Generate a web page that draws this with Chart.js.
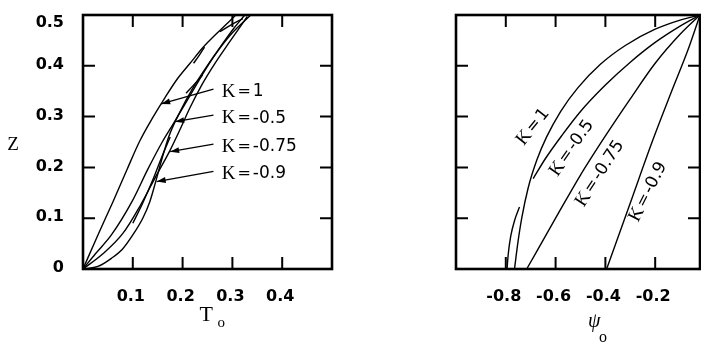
<!DOCTYPE html>
<html><head><meta charset="utf-8">
<script src="https://cdn.jsdelivr.net/npm/chart.js@4"></script>
<style>
html,body{margin:0;padding:0;background:#fff;overflow:hidden;width:701px;height:345px}
#c1{position:absolute;left:0;top:0}
#c2{position:absolute;left:350px;top:0}
</style></head><body>
<canvas id="c1" width="350" height="345"></canvas>
<canvas id="c2" width="351" height="345"></canvas>
<script>
// ---------- Left panel: T0 vs Z ----------
const kNames = ['1', '-0.5', '-0.75', '-0.9'];
const T_k1   = [0, 0.03, 0.06, 0.088, 0.114, 0.14, 0.165, 0.19, 0.215, 0.24, 0.27, 0.307];
const Z_k1   = [0, 0.067, 0.132, 0.195, 0.252, 0.298, 0.338, 0.375, 0.405, 0.435, 0.465, 0.5];
const T_k05  = [0, 0.025, 0.057, 0.098, 0.13, 0.158, 0.184, 0.208, 0.232, 0.256, 0.28, 0.303, 0.325];
const Z_k05  = [0, 0.03, 0.067, 0.132, 0.196, 0.248, 0.29, 0.33, 0.37, 0.408, 0.443, 0.474, 0.5];
const T_k075 = [0, 0.04, 0.08, 0.115, 0.145, 0.174, 0.195, 0.215, 0.24, 0.265, 0.295, 0.33];
const Z_k075 = [0, 0.03, 0.07, 0.125, 0.18, 0.232, 0.275, 0.318, 0.365, 0.405, 0.448, 0.497];
const T_k09  = [0, 0.03, 0.057, 0.08, 0.1, 0.12, 0.134, 0.146, 0.158, 0.172, 0.195, 0.22, 0.248, 0.275, 0.3, 0.337];
const Z_k09  = [0, 0.005, 0.021, 0.04, 0.067, 0.1, 0.132, 0.172, 0.215, 0.26, 0.31, 0.355, 0.398, 0.435, 0.465, 0.5];
// short stray curve fragments
const fragT = [[0.1, 0.12, 0.14, 0.158, 0.175], [0.207, 0.222, 0.24], [0.222, 0.233, 0.244], [0.275, 0.3, 0.321]];
const fragZ = [[0.09, 0.13, 0.175, 0.22, 0.26], [0.346, 0.362, 0.382], [0.405, 0.42, 0.437], [0.467, 0.482, 0.493]];
// tick values and labels
const tTickVals = [0.1, 0.2, 0.3, 0.4];
const tTickLabels = ['0.1', '0.2', '0.3', '0.4'];
const zTickVals = [0, 0.1, 0.2, 0.3, 0.4, 0.5];
const zTickLabels = ['0', '0.1', '0.2', '0.3', '0.4', '0.5'];
const zInnerTicks = [0.1, 0.2, 0.3, 0.4];
// annotations (data coordinates)
const arrowTailT = [0.262, 0.262, 0.262, 0.262];
const arrowTailZ = [0.354, 0.303, 0.246, 0.192];
const arrowHeadT = [0.157, 0.185, 0.175, 0.148];
const arrowHeadZ = [0.325, 0.29, 0.231, 0.172];
const labelT = [0.2785, 0.2785, 0.2785, 0.2785];
const labelZ = [0.349, 0.297, 0.241, 0.187];

// ---------- Right panel: psi0 vs Z ----------
const P_k1   = [-0.765, -0.752, -0.736, -0.71, -0.675, -0.636, -0.58, -0.51, -0.42, -0.32, -0.2, -0.1, -0.02];
const PZ_k1  = [0, 0.05, 0.1, 0.16, 0.215, 0.26, 0.31, 0.357, 0.403, 0.44, 0.472, 0.49, 0.5];
const P_k05  = [-0.69, -0.64, -0.576, -0.5, -0.4, -0.3, -0.2, -0.1, -0.02];
const PZ_k05 = [0.178, 0.218, 0.262, 0.31, 0.362, 0.407, 0.446, 0.478, 0.5];
const P_k075 = [-0.716, -0.6, -0.5, -0.4, -0.3, -0.2, -0.1, -0.02];
const PZ_k075= [0, 0.1, 0.185, 0.262, 0.335, 0.405, 0.462, 0.5];
const P_k09  = [-0.395, -0.3, -0.211, -0.134, -0.067, -0.02];
const PZ_k09 = [0, 0.13, 0.252, 0.35, 0.433, 0.5];
const fragP  = [[-0.795, -0.79, -0.78, -0.765, -0.745]];
const fragPZ = [[0.0, 0.03, 0.065, 0.095, 0.122]];
const pTickVals = [-0.8, -0.6, -0.4, -0.2];
const pTickLabels = ['-0.8', '-0.6', '-0.4', '-0.2'];
const rLabelP = [-0.690, -0.535, -0.422, -0.228];
const rLabelZ = [0.280, 0.238, 0.188, 0.152];
const rLabelAngle = [51, 55, 57, 63];

// ---------- helpers ----------
const SERIF = '"Liberation Serif", "DejaVu Serif", serif';
const SANS = '"DejaVu Sans", "Liberation Sans", sans-serif';
function pts(xs, ys) { return xs.map((v, i) => ({x: v, y: ys[i]})); }
function lineDs(xs, ys) {
  return {data: pts(xs, ys), borderColor: '#000', borderWidth: 1.4, pointRadius: 0,
          cubicInterpolationMode: 'monotone', fill: false, clip: false};
}
function mixedParts(val) {
  return [['K', '19px ' + SERIF, 2], ['=', '16px ' + SANS, 2], [val, '17px ' + SANS, 0]];
}
function mixedWidth(ctx, parts) {
  let w = 0;
  for (const [t, f, g] of parts) { ctx.font = f; w += ctx.measureText(t).width + g; }
  return w;
}
function drawMixed(ctx, x, y, parts) {
  let cx = x;
  ctx.textBaseline = 'middle'; ctx.textAlign = 'left';
  for (const [t, f, g] of parts) { ctx.font = f; ctx.fillText(t, cx, y); cx += ctx.measureText(t).width + g; }
}

const framePlugin = {
  id: 'frame',
  afterDraw(chart, args, o) {
    if (!o || !o.xTicks) return;
    const ctx = chart.ctx, a = chart.chartArea, xs = chart.scales.x, ys = chart.scales.y;
    ctx.save();
    ctx.strokeStyle = '#000'; ctx.fillStyle = '#000';
    ctx.lineWidth = 2.6;
    ctx.strokeRect(a.left, a.top, a.right - a.left, a.bottom - a.top);
    ctx.lineWidth = 2;
    const L = 12;
    ctx.beginPath();
    for (const v of o.xTicks) {
      const px = xs.getPixelForValue(v);
      ctx.moveTo(px, a.bottom); ctx.lineTo(px, a.bottom - L);
      ctx.moveTo(px, a.top); ctx.lineTo(px, a.top + L);
    }
    for (const v of o.yTicks) {
      const py = ys.getPixelForValue(v);
      ctx.moveTo(a.left, py); ctx.lineTo(a.left + L, py);
      ctx.moveTo(a.right, py); ctx.lineTo(a.right - L, py);
    }
    ctx.stroke();
    ctx.font = 'bold 16px ' + SANS;
    ctx.textAlign = 'center'; ctx.textBaseline = 'middle';
    o.xLabelVals.forEach((v, i) => ctx.fillText(o.xLabels[i], xs.getPixelForValue(v) - 2, a.bottom + 28));
    ctx.textAlign = 'right';
    o.yLabelVals.forEach((v, i) => ctx.fillText(o.yLabels[i], a.left - 19, Math.max(ys.getPixelForValue(v), a.top + 9) - 1));
    if (o.draw) o.draw(chart, ctx, a, xs, ys);
    ctx.restore();
  }
};
Chart.register(framePlugin);

function baseOptions(pad, xmin, xmax, frame) {
  return {
    responsive: false, animation: false, devicePixelRatio: 1,
    layout: {padding: pad},
    plugins: {legend: {display: false}, tooltip: {enabled: false}, frame: frame},
    scales: {
      x: {type: 'linear', min: xmin, max: xmax, display: false},
      y: {type: 'linear', min: 0, max: 0.5, display: false}
    }
  };
}

// Left chart
const leftSets = [lineDs(T_k1, Z_k1), lineDs(T_k05, Z_k05), lineDs(T_k075, Z_k075), lineDs(T_k09, Z_k09)]
  .concat(fragT.map((f, i) => lineDs(f, fragZ[i])));
new Chart(document.getElementById('c1'), {
  type: 'line',
  data: {datasets: leftSets},
  options: baseOptions({left: 83, right: 18, top: 15, bottom: 76}, 0, 0.5, {
    xTicks: tTickVals, yTicks: zInnerTicks,
    xLabelVals: tTickVals, xLabels: tTickLabels,
    yLabelVals: zTickVals, yLabels: zTickLabels,
    draw(chart, ctx, a, xs, ys) {
      ctx.lineWidth = 1.3;
      for (let i = 0; i < kNames.length; i++) {
        const x1 = xs.getPixelForValue(arrowTailT[i]), y1 = ys.getPixelForValue(arrowTailZ[i]);
        const x2 = xs.getPixelForValue(arrowHeadT[i]), y2 = ys.getPixelForValue(arrowHeadZ[i]);
        ctx.beginPath(); ctx.moveTo(x1, y1); ctx.lineTo(x2, y2); ctx.stroke();
        const ang = Math.atan2(y2 - y1, x2 - x1), hl = 9, hw = 3;
        ctx.beginPath();
        ctx.moveTo(x2, y2);
        ctx.lineTo(x2 - hl * Math.cos(ang) + hw * Math.sin(ang), y2 - hl * Math.sin(ang) - hw * Math.cos(ang));
        ctx.lineTo(x2 - hl * Math.cos(ang) - hw * Math.sin(ang), y2 - hl * Math.sin(ang) + hw * Math.cos(ang));
        ctx.closePath(); ctx.fill();
        drawMixed(ctx, xs.getPixelForValue(labelT[i]), ys.getPixelForValue(labelZ[i]), mixedParts(kNames[i]));
      }
      ctx.textBaseline = 'alphabetic'; ctx.textAlign = 'left';
      ctx.font = '22px ' + SERIF; ctx.fillText('T', (a.left + a.right) / 2 - 8, a.bottom + 52);
      ctx.font = '15px ' + SERIF; ctx.fillText('o', (a.left + a.right) / 2 + 10, a.bottom + 58);
      ctx.font = '19px ' + SERIF; ctx.textAlign = 'center';
      ctx.fillText('Z', 13, (a.top + a.bottom) / 2 + 8);
    }
  })
});

// Right chart
const rightSets = [lineDs(P_k1, PZ_k1), lineDs(P_k05, PZ_k05), lineDs(P_k075, PZ_k075), lineDs(P_k09, PZ_k09)]
  .concat(fragP.map((f, i) => lineDs(f, fragPZ[i])));
new Chart(document.getElementById('c2'), {
  type: 'line',
  data: {datasets: rightSets},
  options: baseOptions({left: 106, right: 1, top: 15, bottom: 76}, -1.0, -0.02, {
    xTicks: pTickVals, yTicks: zInnerTicks,
    xLabelVals: pTickVals, xLabels: pTickLabels,
    yLabelVals: [], yLabels: [],
    draw(chart, ctx, a, xs, ys) {
      for (let i = 0; i < kNames.length; i++) {
        const parts = mixedParts(kNames[i]);
        const w = mixedWidth(ctx, parts);
        ctx.save();
        ctx.translate(xs.getPixelForValue(rLabelP[i]), ys.getPixelForValue(rLabelZ[i]));
        ctx.rotate(-rLabelAngle[i] * Math.PI / 180);
        drawMixed(ctx, -w / 2, 0, parts);
        ctx.restore();
      }
      const cx = (a.left + a.right) / 2;
      ctx.textBaseline = 'alphabetic'; ctx.textAlign = 'left';
      ctx.font = 'italic 20px ' + SERIF; ctx.fillText('\u03C8', cx + 10, a.bottom + 58);
      ctx.font = '16px ' + SERIF; ctx.fillText('o', cx + 21, a.bottom + 73);
    }
  })
});
</script>
</body></html>
